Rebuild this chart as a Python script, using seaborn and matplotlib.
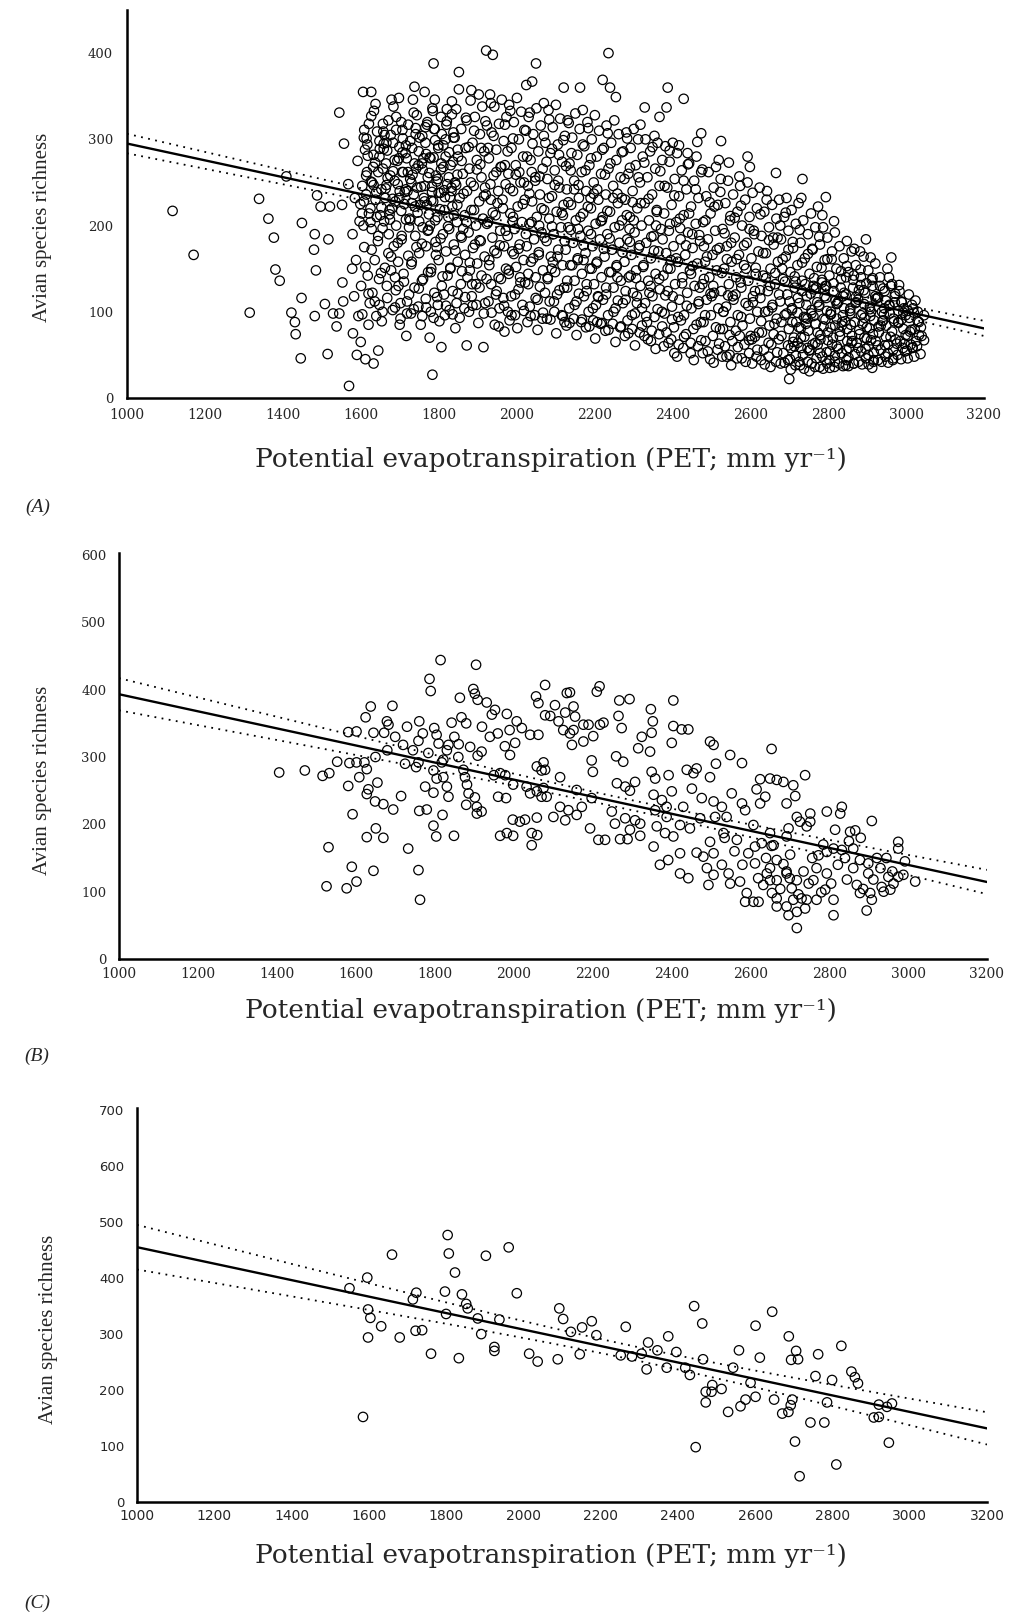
import numpy as np
import pandas as pd
import matplotlib
matplotlib.use("Agg")
import matplotlib.pyplot as plt
import seaborn as sns

# (PET, richness)
a_points = [
    (1117, 217), (1171, 166), (1315, 99), (1339, 231), (1363, 208), (1377, 186), (1381, 149), (1392, 136), (1409, 257), (1449, 203),
    (1448, 116), (1422, 99), (1431, 88), (1433, 74), (1446, 46), (1482, 95), (1485, 148), (1480, 172), (1482, 190), (1488, 235),
    (1497, 222), (1517, 184), (1515, 51), (1508, 109), (1538, 83), (1545, 98), (1555, 112), (1552, 224), (1545, 331), (1557, 295),
    (1568, 248), (1521, 222), (1529, 98), (1570, 14), (1553, 134),
    (1606, 355), (1615, 301), (1590, 50), (1600, 65), (1612, 45), (1620, 85), (1594, 95), (1583, 118), (1601, 130), (1618, 142),
    (1588, 160), (1609, 175), (1579, 190), (1597, 205), (1621, 214), (1585, 232), (1604, 246), (1616, 262), (1592, 275), (1611, 288),
    (1578, 150), (1623, 110), (1599, 225), (1580, 75),
    (1627, 355), (1657, 318), (1661, 305), (1659, 295), (1633, 40), (1645, 55), (1640, 95), (1648, 108), (1630, 122), (1667, 130),
    (1652, 145), (1636, 160), (1671, 168), (1644, 182), (1628, 196), (1660, 205), (1674, 218), (1638, 230), (1653, 242), (1669, 255),
    (1632, 268), (1648, 280), (1665, 272), (1641, 210), (1672, 190), (1656, 100), (1629, 250), (1663, 232),
    (1679, 346), (1698, 348), (1707, 311), (1717, 72), (1682, 102), (1702, 110), (1719, 98), (1690, 125), (1711, 135), (1678, 148),
    (1696, 158), (1722, 165), (1685, 176), (1705, 188), (1691, 200), (1716, 207), (1680, 220), (1699, 232), (1720, 240), (1687, 252),
    (1709, 262), (1694, 275), (1715, 284), (1683, 296), (1704, 320), (1724, 120), (1700, 85), (1712, 225), (1688, 140), (1721, 262),
    (1734, 346), (1764, 355), (1777, 70), (1729, 98), (1748, 106), (1767, 115), (1738, 128), (1757, 136), (1773, 146), (1731, 158),
    (1750, 168), (1768, 176), (1740, 188), (1759, 198), (1727, 206), (1746, 215), (1770, 224), (1736, 236), (1755, 245), (1772, 256),
    (1742, 266), (1761, 278), (1732, 290), (1751, 302), (1766, 314), (1744, 328), (1758, 95), (1774, 195), (1730, 250), (1762, 232),
    (1787, 388), (1790, 346), (1784, 27), (1807, 59), (1780, 100), (1798, 108), (1816, 96), (1789, 122), (1808, 130), (1823, 142),
    (1781, 150), (1800, 160), (1819, 170), (1792, 181), (1811, 190), (1778, 200), (1797, 210), (1815, 218), (1786, 228), (1805, 238),
    (1822, 248), (1793, 258), (1812, 268), (1779, 278), (1799, 290), (1818, 300), (1788, 312), (1806, 326), (1821, 335), (1795, 175),
    (1814, 120), (1783, 245),
    (1852, 378), (1852, 358), (1843, 81), (1872, 61), (1828, 102), (1846, 110), (1866, 104), (1836, 124), (1857, 132), (1874, 140),
    (1830, 150), (1849, 158), (1868, 166), (1839, 178), (1859, 186), (1827, 196), (1847, 204), (1867, 212), (1835, 222), (1854, 232),
    (1873, 240), (1842, 250), (1862, 260), (1831, 270), (1850, 280), (1869, 290), (1838, 302), (1858, 312), (1872, 322), (1845, 335),
    (1863, 196), (1833, 240),
    (1922, 403), (1915, 59), (1878, 100), (1897, 108), (1916, 98), (1885, 118), (1905, 128), (1923, 138), (1880, 148), (1899, 156),
    (1918, 164), (1888, 174), (1908, 182), (1877, 192), (1896, 200), (1914, 208), (1884, 218), (1904, 228), (1921, 236), (1890, 246),
    (1910, 256), (1879, 266), (1898, 276), (1917, 286), (1887, 296), (1906, 306), (1924, 316), (1893, 326), (1912, 338), (1882, 345),
    (1903, 352), (1919, 244), (1886, 132), (1909, 290),
    (1939, 398), (1944, 85), (1969, 77), (1956, 104), (1928, 112), (1947, 120), (1966, 116), (1935, 132), (1954, 140), (1973, 150),
    (1930, 160), (1949, 168), (1968, 176), (1938, 186), (1958, 194), (1927, 204), (1946, 212), (1965, 220), (1934, 230), (1953, 240),
    (1972, 248), (1941, 258), (1961, 268), (1929, 278), (1948, 288), (1967, 298), (1936, 308), (1955, 318), (1974, 326), (1943, 338),
    (1962, 346), (1932, 352), (1951, 226), (1970, 270),
    (2025, 363), (1982, 90), (1978, 100), (1996, 96), (2015, 108), (1986, 118), (2005, 126), (2022, 134), (1980, 144), (1999, 152),
    (2018, 160), (1989, 170), (2008, 178), (1977, 188), (1995, 196), (2014, 204), (1984, 214), (2003, 222), (2021, 230), (1991, 240),
    (2010, 250), (1979, 260), (1998, 270), (2017, 280), (1987, 290), (2006, 300), (2024, 310), (1993, 320), (2012, 332), (1981, 340),
    (2001, 348), (2019, 250), (1990, 205), (2009, 140),
    (2050, 388), (2040, 367), (2028, 88), (2047, 96), (2066, 92), (2034, 106), (2054, 114), (2073, 122), (2030, 132), (2049, 140),
    (2068, 148), (2037, 158), (2057, 166), (2026, 176), (2045, 184), (2064, 192), (2033, 202), (2052, 210), (2071, 218), (2040, 228),
    (2060, 236), (2029, 246), (2048, 256), (2067, 266), (2036, 276), (2056, 286), (2074, 296), (2043, 306), (2062, 316), (2031, 326),
    (2051, 336), (2070, 342), (2058, 200), (2039, 262),
    (2121, 360), (2123, 88), (2078, 92), (2097, 100), (2116, 96), (2085, 112), (2104, 120), (2122, 128), (2080, 138), (2099, 146),
    (2118, 154), (2088, 164), (2107, 172), (2077, 182), (2095, 190), (2114, 198), (2084, 208), (2103, 216), (2121, 224), (2091, 234),
    (2110, 244), (2079, 254), (2098, 264), (2117, 274), (2087, 284), (2106, 294), (2124, 304), (2093, 314), (2112, 324), (2082, 334),
    (2101, 340), (2119, 212), (2090, 150), (2109, 282),
    (2163, 360), (2128, 84), (2147, 92), (2166, 88), (2135, 104), (2154, 112), (2173, 118), (2130, 128), (2149, 136), (2168, 144),
    (2138, 154), (2157, 162), (2126, 172), (2145, 180), (2164, 188), (2133, 198), (2152, 206), (2171, 214), (2140, 224), (2160, 232),
    (2129, 242), (2148, 252), (2167, 262), (2136, 272), (2156, 282), (2174, 292), (2143, 302), (2162, 312), (2131, 322), (2151, 330),
    (2170, 334), (2158, 196), (2139, 264), (2172, 160),
    (2221, 369), (2207, 88), (2178, 82), (2197, 90), (2216, 86), (2185, 100), (2204, 108), (2222, 114), (2180, 124), (2199, 132),
    (2218, 140), (2188, 150), (2207, 158), (2177, 168), (2195, 176), (2214, 184), (2184, 194), (2203, 202), (2221, 210), (2191, 220),
    (2210, 230), (2179, 240), (2198, 250), (2217, 260), (2187, 270), (2206, 280), (2224, 290), (2193, 300), (2212, 310), (2182, 320),
    (2201, 328), (2219, 206), (2190, 232), (2209, 118),
    (2236, 400), (2240, 360), (2255, 349), (2228, 78), (2247, 86), (2266, 82), (2235, 96), (2254, 104), (2273, 110), (2230, 120),
    (2249, 128), (2268, 136), (2238, 146), (2257, 154), (2226, 164), (2245, 172), (2264, 180), (2233, 190), (2252, 198), (2271, 206),
    (2240, 216), (2260, 226), (2229, 236), (2248, 246), (2267, 256), (2236, 266), (2256, 276), (2274, 286), (2243, 296), (2262, 306),
    (2231, 316), (2251, 322), (2270, 232), (2259, 140),
    (2278, 72), (2297, 80), (2316, 76), (2285, 90), (2304, 98), (2322, 104), (2280, 114), (2299, 122), (2318, 130), (2288, 140),
    (2307, 148), (2277, 158), (2295, 166), (2314, 174), (2284, 184), (2303, 192), (2321, 200), (2291, 210), (2310, 220), (2279, 230),
    (2298, 240), (2317, 250), (2287, 260), (2306, 270), (2324, 280), (2293, 290), (2312, 300), (2282, 308), (2301, 312), (2319, 226),
    (2290, 196), (2309, 118),
    (2329, 337), (2367, 326), (2337, 68), (2328, 72), (2347, 78), (2366, 74), (2335, 88), (2354, 94), (2373, 100), (2330, 110),
    (2349, 118), (2368, 126), (2338, 136), (2357, 144), (2326, 154), (2345, 162), (2364, 170), (2333, 180), (2352, 188), (2371, 196),
    (2340, 206), (2360, 216), (2329, 226), (2348, 236), (2367, 246), (2336, 256), (2356, 266), (2374, 276), (2343, 286), (2362, 296),
    (2331, 300), (2358, 200), (2344, 130),
    (2388, 360), (2385, 337), (2397, 68), (2405, 52), (2378, 60), (2416, 62), (2385, 76), (2404, 82), (2422, 90), (2380, 98),
    (2399, 106), (2418, 114), (2388, 124), (2407, 132), (2377, 142), (2395, 150), (2414, 158), (2384, 168), (2403, 176), (2421, 184),
    (2391, 194), (2410, 204), (2379, 214), (2398, 224), (2417, 234), (2387, 244), (2406, 254), (2424, 264), (2393, 274), (2412, 284),
    (2382, 292), (2401, 296), (2419, 208), (2396, 160),
    (2429, 347), (2474, 307), (2428, 58), (2447, 64), (2466, 60), (2435, 74), (2454, 80), (2473, 88), (2430, 96), (2449, 104),
    (2468, 112), (2438, 122), (2457, 130), (2426, 140), (2445, 148), (2464, 156), (2433, 166), (2452, 174), (2471, 182), (2440, 192),
    (2460, 202), (2429, 212), (2448, 222), (2467, 232), (2436, 242), (2456, 252), (2474, 262), (2443, 272), (2462, 280), (2451, 190),
    (2470, 128), (2439, 284),
    (2525, 298), (2497, 45), (2478, 52), (2516, 56), (2485, 66), (2504, 72), (2522, 80), (2480, 88), (2499, 96), (2518, 104),
    (2488, 114), (2507, 122), (2477, 132), (2495, 140), (2514, 148), (2484, 158), (2503, 166), (2521, 174), (2491, 184), (2510, 194),
    (2479, 204), (2498, 214), (2517, 224), (2487, 234), (2506, 244), (2524, 254), (2493, 262), (2512, 268), (2481, 176), (2501, 118),
    (2545, 273), (2528, 48), (2547, 50), (2566, 46), (2535, 60), (2554, 66), (2573, 72), (2530, 80), (2549, 88), (2568, 96),
    (2538, 106), (2557, 114), (2526, 124), (2545, 132), (2564, 140), (2533, 150), (2552, 158), (2571, 166), (2540, 176), (2560, 186),
    (2529, 196), (2548, 206), (2567, 216), (2536, 226), (2556, 236), (2574, 246), (2543, 252), (2562, 120), (2531, 100), (2551, 180),
    (2593, 280), (2599, 268), (2578, 46), (2597, 52), (2616, 48), (2585, 62), (2604, 68), (2622, 76), (2580, 84), (2599, 92),
    (2618, 100), (2588, 110), (2607, 118), (2577, 128), (2595, 136), (2614, 144), (2584, 154), (2603, 162), (2621, 170), (2591, 180),
    (2610, 190), (2579, 200), (2598, 210), (2617, 220), (2587, 230), (2606, 238), (2624, 244), (2593, 250), (2612, 124), (2601, 72),
    (2666, 261), (2628, 44), (2647, 48), (2666, 42), (2635, 56), (2654, 62), (2673, 68), (2630, 76), (2649, 84), (2668, 92),
    (2638, 100), (2657, 108), (2626, 116), (2645, 124), (2664, 132), (2633, 142), (2652, 150), (2671, 158), (2640, 168), (2660, 178),
    (2629, 188), (2648, 198), (2667, 208), (2636, 216), (2656, 224), (2674, 230), (2643, 240), (2662, 86), (2651, 130), (2670, 186),
    (2700, 22), (2678, 40), (2697, 44), (2716, 38), (2685, 52), (2704, 58), (2722, 64), (2680, 72), (2699, 80), (2718, 88),
    (2688, 96), (2707, 104), (2677, 112), (2695, 120), (2714, 128), (2684, 138), (2703, 146), (2721, 154), (2691, 164), (2710, 174),
    (2679, 184), (2698, 194), (2717, 202), (2687, 210), (2706, 218), (2724, 226), (2693, 232), (2712, 70), (2701, 112), (2682, 150),
    (2734, 254), (2728, 38), (2747, 42), (2766, 36), (2735, 50), (2754, 56), (2773, 62), (2730, 70), (2749, 78), (2768, 86),
    (2738, 94), (2757, 102), (2726, 110), (2745, 118), (2764, 126), (2733, 136), (2752, 144), (2771, 152), (2740, 162), (2760, 172),
    (2729, 180), (2748, 190), (2767, 198), (2736, 206), (2756, 214), (2774, 222), (2743, 86), (2762, 130), (2731, 232),
    (2794, 233), (2785, 212), (2815, 205), (2778, 36), (2797, 40), (2816, 36), (2785, 48), (2804, 54), (2822, 60), (2780, 68),
    (2799, 76), (2818, 84), (2788, 92), (2807, 100), (2777, 108), (2795, 116), (2814, 124), (2784, 134), (2803, 142), (2821, 150),
    (2791, 160), (2810, 170), (2779, 178), (2798, 186), (2817, 192), (2787, 198), (2806, 82), (2824, 110), (2793, 130),
    (2867, 173), (2845, 38), (2828, 40), (2847, 44), (2866, 40), (2835, 52), (2854, 58), (2873, 64), (2830, 72), (2849, 80),
    (2868, 88), (2838, 96), (2857, 104), (2826, 112), (2845, 120), (2864, 128), (2833, 138), (2852, 146), (2871, 154), (2840, 162),
    (2860, 170), (2829, 176), (2848, 182), (2862, 66), (2836, 88), (2870, 110),
    (2897, 184), (2909, 163), (2913, 35), (2878, 42), (2897, 46), (2916, 42), (2885, 54), (2904, 60), (2922, 66), (2880, 74),
    (2899, 82), (2918, 90), (2888, 98), (2907, 106), (2877, 114), (2895, 122), (2914, 130), (2884, 140), (2903, 148), (2921, 156),
    (2891, 164), (2882, 170), (2910, 100), (2893, 70),
    (2962, 163), (2956, 140), (2928, 44), (2947, 48), (2966, 44), (2935, 56), (2954, 62), (2973, 68), (2930, 76), (2949, 84),
    (2968, 92), (2938, 100), (2957, 108), (2926, 116), (2945, 124), (2964, 132), (2933, 140), (2952, 150), (2971, 118), (2941, 90),
    (2982, 131), (3021, 48), (2978, 50), (2997, 54), (3016, 58), (2985, 66), (3004, 72), (3022, 80), (2980, 88), (2999, 96),
    (3018, 104), (2988, 112), (3007, 120), (2993, 80), (3012, 62),
    (3028, 60), (3040, 72), (3033, 88), (3046, 96), (3030, 100),
]

# the packed part of the cloud in panel A (overlapping circles)
a_points_packed = [
    (2304, 61), (2322, 84), (2309, 110), (2345, 66), (2333, 95), (2307, 139), (2341, 122), (2325, 152), (2316, 177), (2346, 187),
    (2301, 206), (2339, 231), (2313, 256), (2328, 273), (2349, 291), (2318, 317),
    (2357, 57), (2374, 83), (2390, 64), (2362, 103), (2382, 119), (2399, 91), (2366, 138), (2388, 150), (2353, 171), (2375, 184),
    (2394, 202), (2360, 218), (2380, 246), (2369, 263), (2393, 287), (2354, 304),
    (2412, 48), (2430, 71), (2447, 52), (2415, 94), (2437, 107), (2401, 118), (2425, 133), (2448, 144), (2410, 162), (2435, 177),
    (2420, 197), (2443, 214), (2405, 235), (2429, 252), (2440, 271), (2417, 293),
    (2455, 44), (2474, 67), (2491, 54), (2462, 85), (2484, 96), (2498, 121), (2467, 109), (2481, 138), (2452, 153), (2489, 164),
    (2469, 189), (2485, 206), (2496, 227), (2460, 242), (2477, 265), (2464, 297),
    (2506, 41), (2520, 63), (2539, 48), (2547, 73), (2512, 82), (2531, 100), (2543, 119), (2505, 130), (2527, 145), (2540, 161),
    (2514, 172), (2534, 191), (2549, 211), (2508, 222), (2523, 239), (2519, 276),
    (2551, 38), (2568, 59), (2588, 42), (2597, 67), (2563, 78), (2577, 94), (2595, 107), (2555, 118), (2575, 134), (2589, 150),
    (2565, 161), (2584, 177), (2598, 196), (2560, 209), (2576, 223), (2572, 257),
    (2605, 40), (2618, 56), (2637, 39), (2647, 64), (2612, 71), (2628, 89), (2646, 101), (2607, 111), (2625, 125), (2640, 139),
    (2614, 151), (2633, 168), (2648, 183), (2609, 194), (2626, 213), (2642, 230),
    (2652, 36), (2669, 53), (2688, 41), (2697, 61), (2660, 74), (2680, 88), (2693, 98), (2656, 105), (2674, 120), (2689, 135),
    (2664, 145), (2683, 161), (2698, 172), (2659, 186), (2677, 200), (2691, 215),
    (2704, 33), (2717, 49), (2738, 34), (2747, 58), (2710, 65), (2730, 81), (2743, 93), (2707, 102), (2722, 116), (2741, 132),
    (2714, 141), (2733, 157), (2748, 167), (2709, 181), (2727, 195),
    (2752, 31), (2770, 46), (2787, 34), (2796, 53), (2760, 62), (2780, 73), (2793, 91), (2757, 98), (2772, 111), (2791, 126),
    (2764, 139), (2783, 151), (2798, 161), (2759, 173), (2777, 187),
    (2804, 35), (2817, 49), (2838, 37), (2847, 56), (2810, 62), (2830, 77), (2843, 89), (2807, 97), (2822, 109), (2841, 122),
    (2814, 133), (2833, 147), (2848, 153), (2809, 161),
    (2852, 37), (2869, 51), (2887, 39), (2896, 57), (2860, 64), (2880, 79), (2893, 93), (2857, 98), (2872, 111), (2891, 125),
    (2864, 137), (2883, 149), (2898, 133),
    (2904, 39), (2917, 53), (2937, 42), (2946, 61), (2910, 67), (2930, 83), (2943, 97), (2907, 103), (2922, 115), (2941, 127),
    (2914, 139), (2948, 113),
    (2954, 41), (2967, 56), (2987, 45), (2996, 63), (2960, 71), (2980, 87), (2993, 99), (2957, 107), (2972, 121), (2989, 111),
    (3004, 46), (3017, 59), (3037, 51), (3046, 67), (3010, 77), (3030, 89), (3005, 101), (3024, 113),
    (1604, 97), (1620, 121), (1636, 112), (1647, 138), (1612, 152), (1628, 172), (1645, 188), (1607, 200), (1625, 220), (1640, 239),
    (1614, 258), (1633, 282), (1648, 298), (1609, 311), (1627, 327), (1638, 341),
    (1654, 89), (1668, 116), (1688, 105), (1697, 130), (1662, 151), (1678, 164), (1695, 180), (1656, 197), (1674, 213), (1689, 228),
    (1666, 247), (1683, 263), (1698, 278), (1659, 289), (1677, 305), (1691, 326),
    (1702, 92), (1719, 112), (1736, 103), (1749, 127), (1710, 144), (1730, 155), (1743, 175), (1705, 184), (1724, 198), (1739, 222),
    (1716, 242), (1733, 259), (1748, 270), (1707, 285), (1727, 298), (1741, 313), (1738, 361),
    (1754, 85), (1768, 105), (1787, 93), (1796, 117), (1760, 138), (1780, 146), (1793, 166), (1757, 179), (1772, 194), (1791, 206),
    (1764, 228), (1783, 239), (1798, 254), (1759, 265), (1777, 279), (1791, 299), (1770, 317), (1785, 333),
    (1802, 89), (1819, 107), (1836, 97), (1849, 121), (1810, 141), (1830, 151), (1843, 171), (1805, 185), (1824, 199), (1839, 212),
    (1816, 233), (1833, 244), (1848, 259), (1807, 272), (1827, 285), (1841, 302), (1820, 317), (1834, 344),
    (1854, 93), (1868, 117), (1887, 107), (1896, 132), (1860, 147), (1880, 157), (1893, 178), (1857, 188), (1872, 204), (1891, 218),
    (1864, 237), (1883, 250), (1898, 265), (1859, 275), (1877, 291), (1891, 310), (1870, 325), (1884, 357),
    (1902, 87), (1919, 110), (1936, 99), (1949, 124), (1910, 142), (1930, 154), (1943, 171), (1905, 183), (1924, 202), (1939, 215),
    (1916, 234), (1933, 248), (1948, 262), (1907, 271), (1927, 290), (1941, 304), (1920, 321), (1934, 342),
    (1954, 83), (1968, 107), (1987, 96), (1996, 120), (1960, 138), (1980, 148), (1993, 167), (1957, 177), (1972, 194), (1991, 210),
    (1964, 230), (1983, 243), (1998, 259), (1959, 268), (1977, 286), (1991, 301), (1970, 317), (1984, 333),
    (2002, 81), (2019, 101), (2036, 95), (2049, 116), (2010, 134), (2030, 144), (2043, 162), (2005, 173), (2024, 190), (2039, 204),
    (2016, 225), (2033, 237), (2048, 252), (2007, 262), (2027, 280), (2041, 295), (2020, 311), (2034, 331),
    (2054, 79), (2068, 99), (2087, 91), (2096, 112), (2060, 129), (2080, 140), (2093, 158), (2057, 169), (2072, 186), (2091, 199),
    (2064, 220), (2083, 232), (2098, 247), (2059, 257), (2077, 274), (2091, 289), (2070, 304), (2084, 323),
    (2102, 75), (2119, 95), (2136, 87), (2149, 108), (2110, 125), (2130, 136), (2143, 154), (2105, 164), (2124, 182), (2139, 195),
    (2116, 215), (2133, 227), (2148, 242), (2107, 252), (2127, 269), (2141, 284), (2120, 299), (2134, 319),
    (2154, 73), (2168, 91), (2187, 83), (2196, 104), (2160, 121), (2180, 132), (2193, 150), (2157, 160), (2172, 177), (2191, 190),
    (2164, 210), (2183, 222), (2198, 237), (2159, 247), (2177, 264), (2191, 278), (2170, 294), (2184, 313),
    (2202, 69), (2219, 87), (2236, 79), (2249, 100), (2210, 117), (2230, 128), (2243, 146), (2205, 156), (2224, 173), (2239, 185),
    (2216, 205), (2233, 217), (2248, 232), (2207, 242), (2227, 259), (2241, 272), (2220, 288), (2234, 307),
    (2254, 65), (2268, 83), (2287, 75), (2296, 96), (2260, 113), (2280, 124), (2293, 142), (2257, 152), (2272, 169), (2291, 181),
    (2264, 200), (2283, 212), (2298, 227), (2259, 237), (2277, 254), (2291, 267), (2270, 285), (2284, 301),
]

# the most crowded corners of panel A: low right and upper left
a_points_crowded = [
    (2702, 45), (2713, 60), (2726, 42), (2739, 71), (2751, 55), (2708, 88), (2721, 99), (2744, 108), (2733, 124), (2716, 135),
    (2758, 40), (2767, 64), (2779, 52), (2788, 83), (2799, 67), (2762, 95), (2776, 106), (2791, 118), (2784, 137), (2769, 128),
    (2803, 44), (2812, 70), (2826, 57), (2835, 84), (2849, 66), (2806, 97), (2819, 113), (2841, 104), (2832, 128), (2846, 140),
    (2852, 47), (2861, 72), (2877, 58), (2888, 86), (2899, 69), (2856, 101), (2871, 117), (2892, 109), (2883, 131), (2866, 142),
    (2903, 50), (2915, 74), (2927, 61), (2939, 89), (2948, 71), (2908, 95), (2921, 118), (2944, 104), (2933, 130), (2912, 137),
    (2953, 52), (2964, 77), (2976, 63), (2988, 91), (2999, 73), (2958, 98), (2971, 111), (2994, 104), (2983, 124), (2961, 130),
    (3002, 55), (3013, 79), (3026, 66), (3038, 82), (3008, 93), (3020, 99), (3033, 73), (3015, 108), (2725, 82), (2747, 92),
    (2773, 76), (2797, 101), (2822, 92), (2858, 85), (2884, 96), (2906, 81), (2935, 84), (2969, 89), (2992, 58), (2817, 42),
    (2865, 40), (2917, 44), (2967, 46), (2731, 58), (2755, 121), (2795, 130), (2838, 118), (2879, 125), (2928, 117), (2980, 101),
    (1603, 214), (1614, 236), (1626, 251), (1637, 273), (1649, 289), (1608, 302), (1621, 318), (1634, 333), (1645, 262), (1618, 281),
    (1653, 221), (1664, 243), (1676, 258), (1687, 276), (1699, 291), (1658, 309), (1671, 322), (1684, 338), (1695, 248), (1668, 287),
    (1704, 217), (1713, 239), (1727, 254), (1738, 272), (1749, 286), (1708, 301), (1722, 317), (1736, 331), (1745, 244), (1718, 278),
    (1753, 224), (1764, 246), (1776, 261), (1787, 279), (1799, 293), (1758, 304), (1771, 320), (1784, 336), (1795, 251), (1768, 283),
    (1803, 219), (1814, 241), (1826, 256), (1837, 274), (1849, 288), (1808, 306), (1821, 321), (1834, 329), (1845, 247), (1818, 280),
    (1608, 228), (1633, 247), (1657, 266), (1682, 231), (1706, 262), (1731, 226), (1757, 272), (1781, 229), (1806, 265), (1829, 233),
    (1617, 294), (1642, 309), (1666, 296), (1691, 311), (1716, 293), (1741, 306), (1766, 296), (1790, 312), (1812, 293), (1838, 308),
    (1625, 204), (1650, 212), (1675, 207), (1700, 240), (1725, 208), (1750, 205), (1775, 213), (1800, 238), (1825, 210), (1848, 224),
]

b_points = [
    (1815, 444), (1905, 437), (1787, 416), (1790, 398), (1898, 401), (1902, 394), (1909, 385), (1864, 388), (1932, 381), (1953, 370),
    (1945, 363), (1983, 364), (1868, 359), (1843, 351), (2008, 353), (2021, 343), (2042, 333), (2063, 333), (2057, 390), (2063, 380),
    (2080, 407), (2080, 362), (1638, 375), (1625, 359), (1693, 376), (1679, 353), (1683, 348), (1645, 336), (1672, 336), (1581, 337),
    (1602, 338), (1761, 353), (1759, 324), (1799, 343), (1805, 333), (1810, 320), (1835, 318), (1861, 319), (1831, 310), (1822, 296),
    (1784, 306), (1919, 308), (1909, 302), (1978, 316), (2004, 321), (1991, 303), (1553, 293), (1584, 291), (1602, 292), (1622, 292),
    (1628, 282), (1609, 270), (1581, 257), (1655, 262), (1632, 252), (1628, 245), (1725, 290), (1753, 285), (1759, 292), (1797, 280),
    (1805, 268), (1818, 292), (1822, 270), (1831, 256), (1835, 241), (1797, 247), (1776, 256), (1873, 281), (1877, 270), (1882, 259),
    (1886, 246), (1880, 229), (1902, 240), (1907, 226), (1919, 219), (1907, 216), (1950, 273), (1966, 276), (1979, 273), (1999, 259),
    (1961, 241), (1981, 239), (2033, 256), (2042, 246), (2059, 249), (2071, 241), (2059, 286), (2071, 280), (1649, 234), (1670, 230),
    (1695, 222), (1715, 242), (1761, 220), (1780, 222), (1592, 215), (1797, 198), (1804, 182), (1849, 183), (1820, 214), (1966, 183),
    (1983, 187), (1999, 183), (1998, 207), (2016, 204), (2029, 207), (2046, 187), (2060, 184), (2059, 210), (2046, 169), (1628, 181),
    (1651, 194), (1670, 180), (1531, 166), (1733, 164), (1590, 137), (1645, 131), (1602, 115), (1577, 105), (1526, 108), (1759, 132),
    (1763, 88), (1406, 277), (1471, 280), (1516, 272), (1533, 276),
    (1700, 330), (1730, 345), (1745, 310), (1770, 335), (1850, 330), (1880, 350), (1920, 345), (1940, 330), (1860, 300), (1680, 310),
    (1720, 318), (1650, 300), (1890, 315), (1960, 335), (1990, 340),
    (2135, 395), (2143, 396), (2218, 405), (2211, 397), (2105, 377), (2131, 366), (2152, 375), (2156, 360), (2093, 361), (2114, 353),
    (2126, 340), (2143, 335), (2152, 340), (2177, 348), (2190, 348), (2202, 331), (2177, 323), (2148, 318), (2228, 351), (2219, 348),
    (2268, 384), (2294, 386), (2266, 361), (2274, 343), (2348, 371), (2353, 353), (2350, 336), (2325, 330), (2316, 313), (2346, 308),
    (2405, 384), (2405, 346), (2426, 341), (2443, 341), (2401, 321), (2198, 295), (2201, 278), (2260, 301), (2278, 293), (2076, 292),
    (2080, 281), (2118, 270), (2498, 323), (2507, 318), (2549, 303), (2579, 291), (2513, 290), (2654, 312), (2739, 273), (2439, 281),
    (2464, 283), (2456, 276), (2498, 270), (2350, 278), (2359, 268), (2393, 273), (2401, 249), (2262, 261), (2283, 256), (2308, 263),
    (2295, 250), (2160, 251), (2198, 239), (2173, 226), (2076, 254), (2084, 241), (2118, 226), (2139, 221), (2160, 214), (2101, 211),
    (2131, 206), (2194, 194), (2215, 177), (2232, 177), (2270, 178), (2289, 178), (2249, 219), (2257, 201), (2283, 209), (2308, 206),
    (2321, 201), (2295, 192), (2321, 183), (2355, 244), (2376, 236), (2388, 226), (2359, 221), (2363, 197), (2384, 187), (2405, 182),
    (2355, 167), (2388, 211), (2422, 199), (2447, 194), (2473, 209), (2430, 226), (2452, 253), (2477, 239), (2507, 234), (2528, 226),
    (2511, 211), (2540, 211), (2553, 246), (2579, 231), (2587, 221), (2532, 187), (2566, 177), (2608, 199), (2498, 174), (2507, 157),
    (2481, 152), (2422, 157), (2464, 158), (2371, 140), (2392, 147), (2422, 127), (2443, 120), (2490, 135), (2494, 110), (2507, 125),
    (2528, 140), (2545, 127), (2549, 112), (2574, 115), (2591, 98), (2587, 85), (2608, 85), (2621, 85), (2595, 157), (2612, 167),
    (2629, 172), (2654, 168), (2625, 231), (2638, 241), (2616, 252), (2625, 267), (2650, 268), (2667, 266), (2684, 263), (2709, 258),
    (2692, 231), (2714, 242), (2650, 187), (2659, 169), (2697, 194), (2692, 182), (2718, 211), (2726, 204), (2752, 216), (2752, 204),
    (2743, 197), (2667, 147), (2692, 127), (2650, 135), (2642, 127), (2650, 117), (2667, 117), (2692, 130), (2718, 117), (2705, 105),
    (2709, 88), (2692, 78), (2667, 90), (2667, 78), (2697, 65), (2718, 70), (2739, 75), (2743, 88), (2768, 88), (2790, 103),
    (2718, 46), (2768, 135), (2794, 159), (2773, 154), (2760, 117), (2794, 127), (2794, 219), (2815, 192), (2832, 226), (2828, 216),
    (2866, 191), (2853, 189), (2908, 205), (2811, 164), (2832, 162), (2861, 164), (2840, 150), (2878, 147), (2861, 135), (2899, 142),
    (2899, 127), (2811, 88), (2811, 65), (2878, 98), (2904, 98), (2908, 88), (2895, 72), (2921, 150), (2933, 107), (2950, 122),
    (2963, 112), (2955, 103), (2938, 100), (2975, 122), (2975, 174), (2975, 164), (2992, 145), (2988, 125), (3018, 115),
    (2612, 142), (2633, 110), (2655, 98), (2676, 104), (2684, 141), (2701, 155), (2722, 96), (2735, 130), (2748, 112), (2757, 150),
    (2780, 99), (2805, 112), (2822, 140), (2845, 118), (2870, 110), (2886, 104), (2912, 118), (2930, 135), (2960, 130), (2580, 140),
    (2560, 160), (2535, 180), (2620, 120), (2640, 150), (2700, 120), (2730, 90), (2785, 170), (2850, 175), (2880, 180), (2945, 150),
]

c_points = [
    (1804, 477), (1807, 444), (1962, 455), (1660, 442), (1903, 440), (1823, 410), (1596, 401), (1550, 382), (1797, 376), (1841, 371),
    (1983, 373), (1723, 374), (1714, 362), (1852, 354), (1856, 346), (1598, 344), (1604, 329), (1800, 336), (1882, 328), (1938, 326),
    (1632, 314), (1721, 306), (1738, 307), (1598, 294), (1680, 294), (1891, 300), (1761, 265), (1833, 257), (1925, 277), (1925, 270),
    (2015, 265), (2037, 251), (1585, 152),
    (2093, 346), (2103, 327), (2089, 255), (2123, 304), (2152, 312), (2177, 323), (2189, 298), (2146, 264), (2265, 313), (2252, 262),
    (2281, 260), (2323, 285), (2306, 265), (2319, 237), (2347, 271), (2375, 296), (2371, 240), (2396, 268), (2419, 240), (2431, 227),
    (2442, 350), (2463, 319), (2465, 255), (2446, 98), (2472, 197), (2489, 209), (2513, 202), (2472, 178), (2487, 197), (2530, 161),
    (2543, 240), (2558, 271), (2588, 213), (2601, 315), (2612, 258), (2562, 171), (2575, 183), (2601, 188), (2644, 340), (2649, 183),
    (2670, 158), (2686, 161), (2692, 173), (2696, 183), (2687, 296), (2693, 254), (2711, 255), (2706, 270), (2703, 108), (2715, 46),
    (2743, 142), (2779, 142), (2763, 264), (2756, 225), (2799, 218), (2786, 178), (2823, 279), (2810, 67), (2849, 233), (2858, 223),
    (2866, 212), (2907, 151), (2920, 152), (2920, 174), (2941, 170), (2954, 176), (2946, 106),
]

pet_ticks = [1000, 1200, 1400, 1600, 1800, 2000, 2200, 2400, 2600, 2800, 3000, 3200]
a_yticks = [0, 100, 200, 300, 400]
b_yticks = [0, 100, 200, 300, 400, 500, 600]
c_yticks = [0, 100, 200, 300, 400, 500, 600, 700]
panel_tags = ["(A)", "(B)", "(C)"]
x_title = "Potential evapotranspiration (PET; mm yr\u207b\u00b9)"
y_title = "Avian species richness"

sns.set_style("white")
plt.rcParams["font.family"] = ["DejaVu Serif"]

W, H = 1009, 1616
fig = plt.figure(figsize=(W / 100, H / 100), dpi=100)


def px_rect(left, top, right, bottom):
    return [left / W, 1 - bottom / H, (right - left) / W, (bottom - top) / H]


def fit_with_ci(x, y, grid):
    b1, b0 = np.polyfit(x, y, 1)
    n = len(x)
    resid = y - (b0 + b1 * x)
    s = np.sqrt(np.sum(resid ** 2) / (n - 2))
    sxx = np.sum((x - x.mean()) ** 2)
    yhat = b0 + b1 * grid
    se = s * np.sqrt(1 / n + (grid - x.mean()) ** 2 / sxx)
    return yhat, yhat - 1.96 * se, yhat + 1.96 * se


def draw_panel(points, rect, ymax, yticks, tickfont, xpad, ypad):
    ax = fig.add_axes(rect)
    df = pd.DataFrame(points, columns=["pet", "richness"])
    sns.scatterplot(data=df, x="pet", y="richness", ax=ax, marker="o", s=46,
                    color="black", facecolor="none", edgecolor="black",
                    linewidth=0.9, legend=False, zorder=2)
    grid = np.linspace(1000, 3200, 200)
    yhat, lo, hi = fit_with_ci(df["pet"].to_numpy(float), df["richness"].to_numpy(float), grid)
    ax.plot(grid, yhat, color="black", lw=1.7, zorder=3)
    ax.plot(grid, lo, color="black", lw=1.3, ls=(0, (1, 3)), zorder=3)
    ax.plot(grid, hi, color="black", lw=1.3, ls=(0, (1, 3)), zorder=3)
    ax.set_xlim(1000, 3200)
    ax.set_ylim(0, ymax)
    ax.set_xticks(pet_ticks)
    ax.set_yticks(yticks)
    ax.set_xlabel("")
    ax.set_ylabel("")
    sns.despine(ax=ax)
    for side in ["left", "bottom"]:
        ax.spines[side].set_linewidth(1.8)
        ax.spines[side].set_color("black")
    ax.tick_params(axis="x", length=0, pad=xpad, labelsize=10)
    ax.tick_params(axis="y", length=0, pad=ypad, labelsize=9.5)
    for lab in ax.get_xticklabels() + ax.get_yticklabels():
        lab.set_family(tickfont)
    return ax


draw_panel(a_points + a_points_packed + a_points_crowded, px_rect(127, 10, 984, 398), 450, a_yticks,
           "DejaVu Serif", 7, 10)
draw_panel(b_points, px_rect(119, 553, 987, 959), 603, b_yticks, "DejaVu Serif", 6, 9)
draw_panel(c_points, px_rect(137, 1108, 987, 1502), 704, c_yticks, "DejaVu Sans", 5, 9)

# axis titles and panel tags, placed in figure pixels
for (xx, yy) in [(551, 460), (541, 1011), (551, 1556)]:
    fig.text(xx / W, 1 - yy / H, x_title, ha="center", va="center", fontsize=19)
for (xx, yy) in [(43, 227), (43, 780), (49, 1329)]:
    fig.text(xx / W, 1 - yy / H, y_title, ha="center", va="center", rotation=90,
             fontsize=15, family="Liberation Serif")
for tag, (xx, yy) in zip(panel_tags, [(38, 507), (37, 1056), (37, 1603)]):
    fig.text(xx / W, 1 - yy / H, tag, ha="center", va="center", fontsize=14,
             family="Liberation Serif", style="italic")

fig.savefig("out.png", dpi=100)
